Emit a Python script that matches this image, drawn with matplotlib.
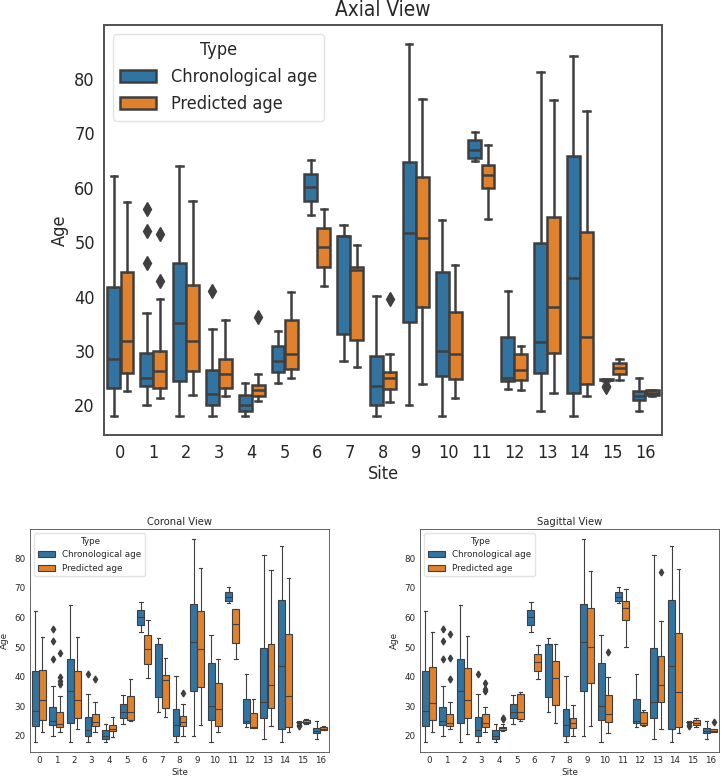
import matplotlib
matplotlib.use("Agg")
from matplotlib import pyplot as plt
from matplotlib.patches import Patch

# Box statistics per site: (lower whisker, q1, median, q3, upper whisker)
sites = list(range(17))
types = ['Chronological age', 'Predicted age']

chrono_stats = [
    (18.1, 23.3, 28.5, 41.8, 62.1), (20.1, 23.6, 25.1, 29.7, 37.0),
    (18.1, 24.5, 35.1, 46.1, 64.1), (18.1, 20.0, 22.1, 26.5, 34.1),
    (18.1, 19.0, 20.1, 22.0, 24.1), (24.1, 26.1, 28.2, 30.9, 33.7),
    (55.0, 57.5, 60.1, 62.6, 65.1), (28.1, 33.1, 51.1, 51.1, 53.1),
    (18.1, 20.0, 23.6, 29.1, 40.1), (20.1, 35.3, 51.7, 64.7, 86.5),
    (18.0, 25.4, 30.1, 44.6, 54.0), (64.9, 65.5, 66.9, 68.7, 70.2),
    (23.0, 24.5, 25.1, 32.5, 41.0), (19.0, 26.0, 31.6, 49.8, 81.2),
    (18.1, 22.3, 43.5, 65.8, 84.2), (24.5, 24.6, 24.7, 24.8, 24.9),
    (19.0, 21.0, 21.8, 22.7, 25.0),
]
chrono_fliers = {1: [56.1, 52.1, 46.1], 3: [41.0], 15: [23.6, 23.4]}

axial_stats = [
    (22.6, 26.0, 31.9, 44.6, 57.4), (21.4, 23.2, 26.4, 30.1, 39.6),
    (22.0, 26.4, 31.8, 42.1, 57.5), (21.7, 23.2, 25.8, 28.6, 35.8),
    (20.9, 21.7, 22.9, 23.7, 25.7), (25.1, 26.7, 29.5, 35.8, 40.9),
    (41.9, 45.5, 49.1, 52.6, 56.2), (27.1, 32.1, 44.9, 45.5, 49.5),
    (20.6, 23.1, 25.0, 26.1, 29.4), (23.9, 38.1, 50.7, 62.0, 76.4),
    (21.3, 24.9, 29.4, 37.1, 45.9), (54.2, 59.9, 62.3, 64.2, 67.9),
    (22.8, 24.7, 26.6, 29.5, 30.9), (22.3, 29.7, 38.1, 54.6, 76.1),
    (21.8, 23.9, 32.6, 51.8, 74.2), (24.6, 25.7, 26.8, 27.8, 28.5),
    (21.7, 21.9, 22.3, 22.8, 22.9),
]
axial_fliers = {1: [51.6, 42.8], 4: [36.2], 8: [39.6]}

coronal_stats = [
    (21.5, 25.4, 32.2, 42.3, 53.3), (21.5, 22.9, 23.9, 28.2, 33.6),
    (22.3, 26.2, 32.0, 42.0, 53.6), (21.5, 23.2, 24.6, 27.4, 31.5),
    (19.8, 21.7, 22.5, 23.8, 26.3), (25.1, 25.4, 28.2, 33.5, 39.1),
    (39.5, 44.3, 49.3, 54.1, 59.2), (26.4, 29.3, 38.9, 40.6, 46.5),
    (20.0, 23.2, 24.8, 26.8, 30.8), (23.7, 36.5, 49.4, 62.1, 76.7),
    (21.4, 23.5, 29.2, 37.8, 45.9), (46.1, 51.3, 57.9, 62.9, 62.9),
    (22.8, 22.8, 23.0, 27.7, 32.4), (23.2, 29.3, 37.2, 51.1, 76.1),
    (21.4, 22.9, 33.4, 54.6, 73.5), (24.1, 24.3, 24.7, 25.3, 25.6),
    (21.9, 22.0, 22.4, 23.0, 23.2),
]
coronal_fliers = {1: [48.1, 39.8, 38.7, 37.6], 3: [39.3], 8: [34.6]}

sagittal_stats = [
    (21.2, 25.3, 31.0, 43.3, 55.0), (22.5, 23.2, 24.5, 27.3, 31.4),
    (20.6, 26.2, 32.0, 43.0, 53.8), (21.5, 23.0, 24.3, 27.4, 29.7),
    (21.6, 22.0, 22.6, 23.0, 23.9), (25.2, 25.7, 28.2, 34.2, 34.7),
    (39.4, 42.1, 44.9, 47.7, 50.6), (24.3, 30.5, 39.6, 45.2, 51.2),
    (20.1, 22.8, 24.4, 26.2, 30.6), (23.4, 37.8, 49.9, 63.2, 75.8),
    (21.1, 24.6, 27.5, 33.7, 39.9), (49.9, 59.1, 63.1, 65.6, 69.8),
    (23.4, 23.6, 24.3, 28.0, 28.9), (22.5, 31.4, 37.1, 46.9, 59.0),
    (21.1, 23.0, 34.7, 54.8, 76.5), (23.0, 23.6, 24.5, 25.5, 26.2),
    (21.2, 21.5, 21.8, 22.5, 22.5),
]
sagittal_fliers = {1: [54.3, 46.5, 39.1], 3: [37.8, 35.8, 35.1], 4: [25.6, 26.2],
                   10: [48.3], 13: [75.4], 16: [24.7]}

colors = ['#3274a1', '#e1812c']
line_color = '#3f3f3f'
text_color = '#262626'


def make_stats(stats, fliers):
    out = []
    for i, (lo, q1, med, q3, hi) in enumerate(stats):
        out.append({'whislo': lo, 'q1': q1, 'med': med, 'q3': q3, 'whishi': hi,
                    'fliers': fliers.get(i, [])})
    return out


def draw(ax, pred_stats, pred_fliers, title, fs, lw, ms):
    groups = [make_stats(chrono_stats, chrono_fliers), make_stats(pred_stats, pred_fliers)]
    for k, group in enumerate(groups):
        pos = [s - 0.2 + 0.4 * k for s in sites]
        ax.bxp(group, positions=pos, widths=0.4 * 0.98, patch_artist=True,
               manage_ticks=False,
               boxprops=dict(facecolor=colors[k], edgecolor=line_color, linewidth=lw),
               medianprops=dict(color=line_color, linewidth=lw),
               whiskerprops=dict(color=line_color, linewidth=lw),
               capprops=dict(color=line_color, linewidth=lw),
               flierprops=dict(marker='d', markerfacecolor=line_color,
                               markeredgecolor=line_color, markersize=ms))
    ax.set_xlim(-0.5, 16.5)
    ax.set_xticks(sites)
    ax.set_xticklabels([str(s) for s in sites])
    ax.set_yticks([20, 30, 40, 50, 60, 70, 80])
    ax.tick_params(length=0, labelsize=fs, colors=text_color, pad=fs * 0.5)
    ax.set_xlabel('Site', fontsize=fs, color=text_color, labelpad=2)
    ax.set_ylabel('Age', fontsize=fs, color=text_color, labelpad=4)
    ax.set_title(title, fontsize=fs * 1.15, color=text_color, pad=fs * 0.5)
    for sp in ax.spines.values():
        sp.set_color('#555555')
        sp.set_linewidth(lw * 0.8)
    handles = [Patch(facecolor=c, edgecolor=line_color, linewidth=lw) for c in colors]
    leg = ax.legend(handles, types, title='Type', loc='upper left', fontsize=fs,
                    title_fontsize=fs, frameon=True, fancybox=True,
                    handlelength=2.0, borderpad=0.4)
    leg.get_frame().set_edgecolor('#dddddd')
    for t in leg.get_texts():
        t.set_color(text_color)
    leg.get_title().set_color(text_color)


W, H = 722, 779
fig = plt.figure(figsize=(W / 100, H / 100), dpi=100)

# the top panel in the source image is horizontally squeezed
plt.rcParams['font.stretch'] = 'condensed'
ax_top = fig.add_axes([104 / W, 1 - 435 / H, 558 / W, 410 / H])
draw(ax_top, axial_stats, axial_fliers, 'Axial View', 13, 1.8, 7)

plt.rcParams['font.stretch'] = 'normal'
ax_cor = fig.add_axes([30 / W, 1 - 752 / H, 299 / W, 223 / H])
draw(ax_cor, coronal_stats, coronal_fliers, 'Coronal View', 6.3, 0.8, 3.5)

ax_sag = fig.add_axes([420 / W, 1 - 752 / H, 299 / W, 223 / H])
draw(ax_sag, sagittal_stats, sagittal_fliers, 'Sagittal View', 6.3, 0.8, 3.5)

fig.savefig('out.png', dpi=100)
